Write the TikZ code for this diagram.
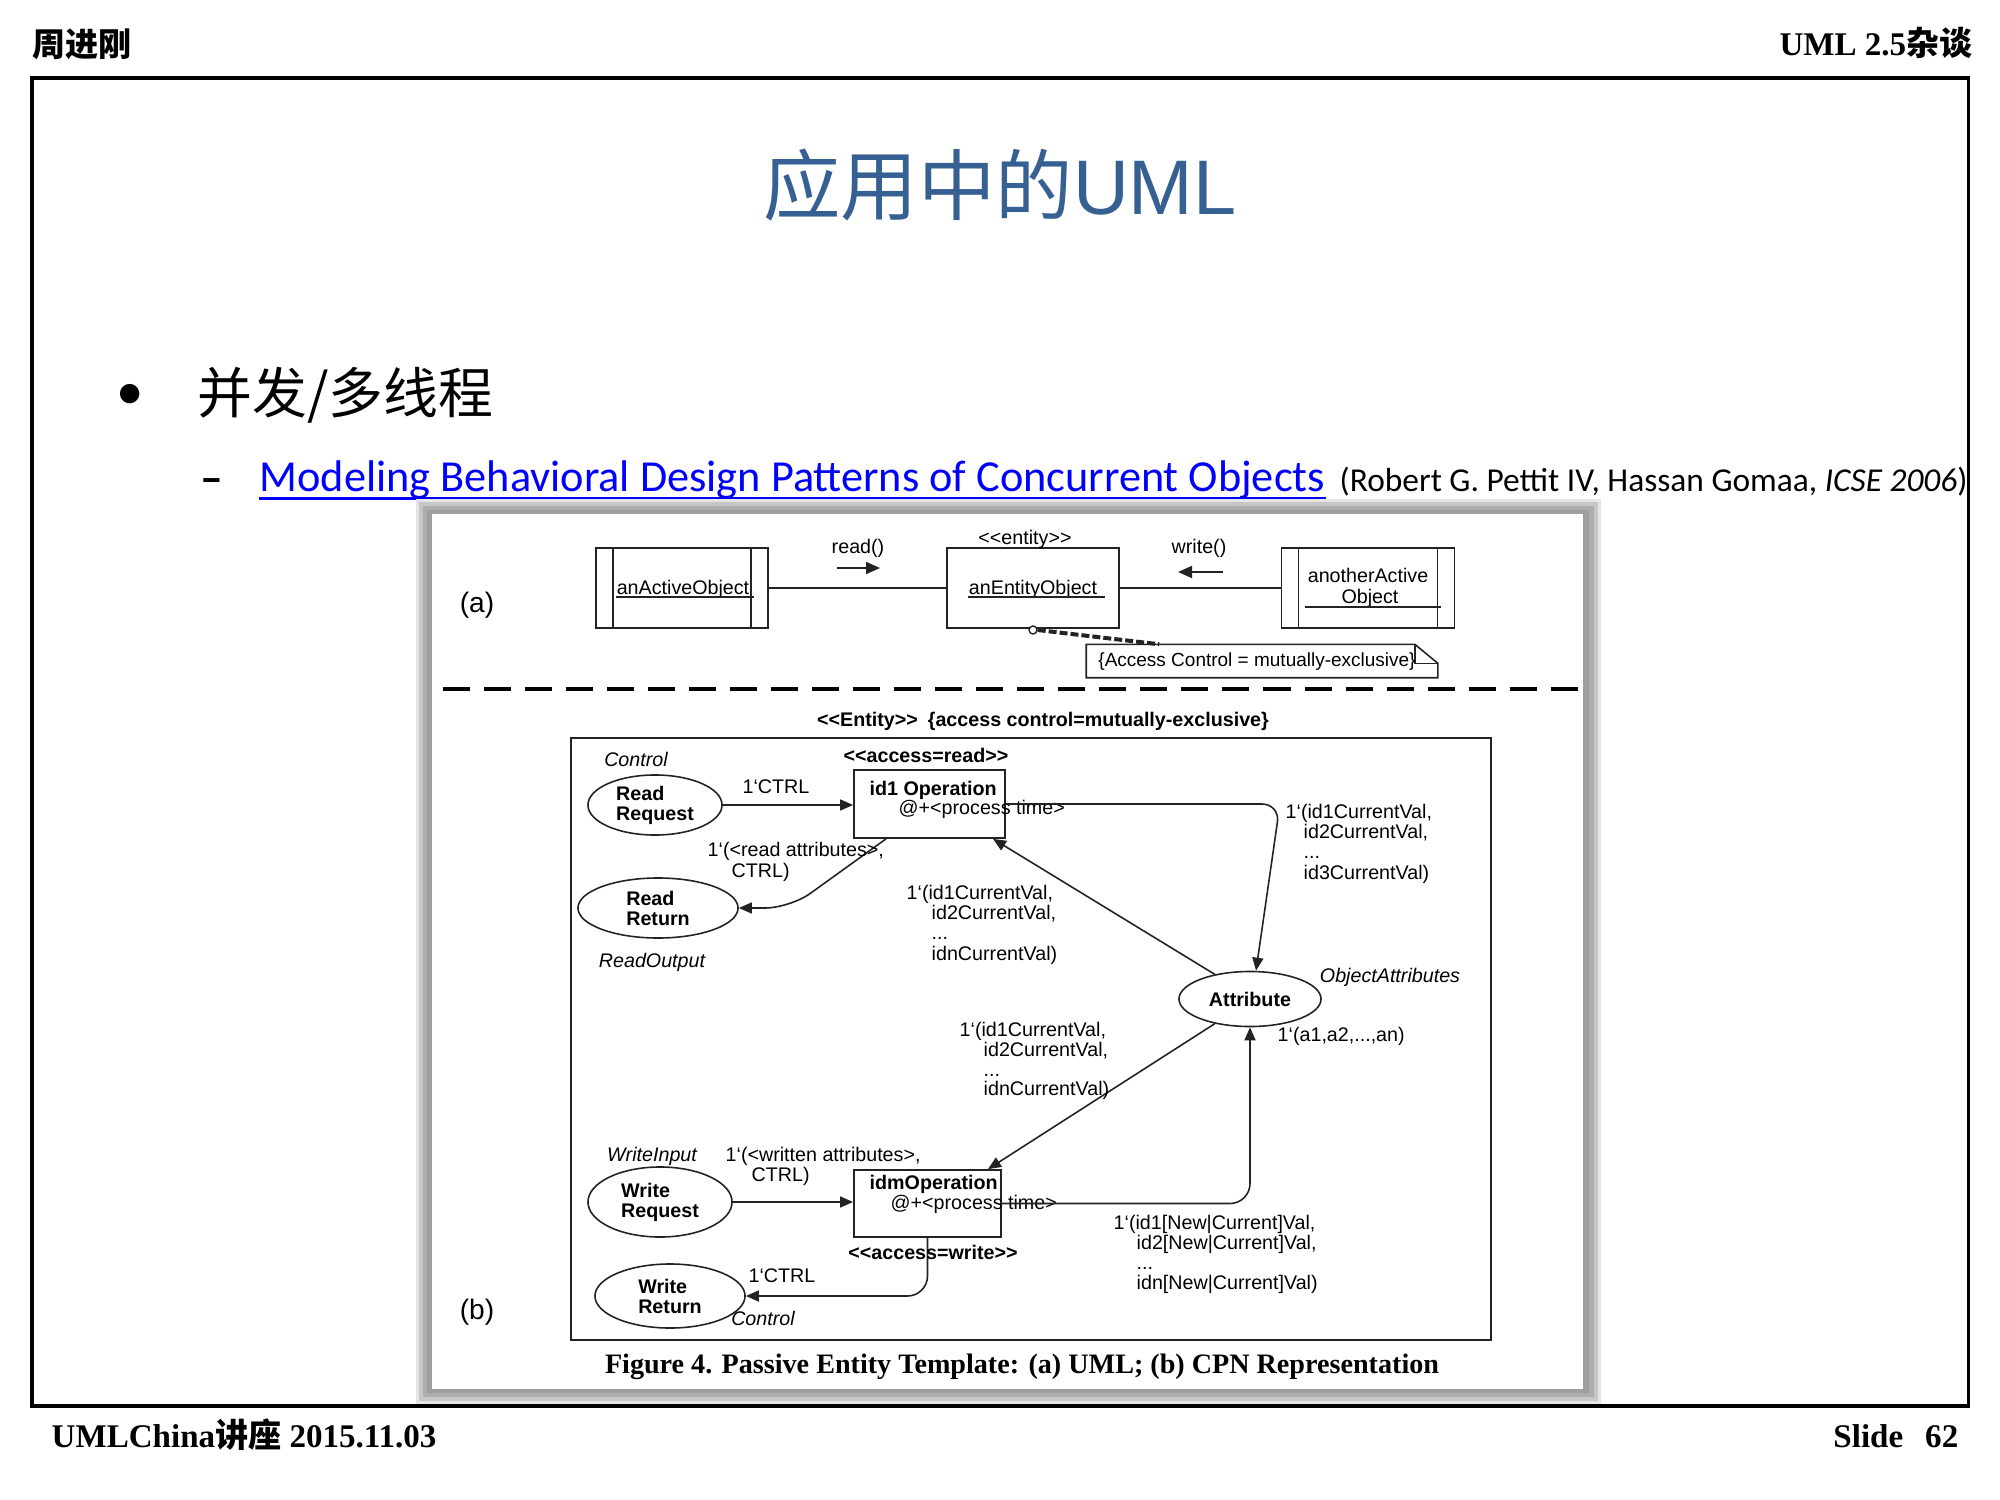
\documentclass[tikz,border=0pt]{standalone}
\usepackage{fontspec}
\setmainfont{Liberation Serif}
\newfontfamily\cjk{Noto Sans CJK SC}
\newfontfamily\dfont{Liberation Sans}
\newfontfamily\calfont{Carlito}
\usetikzlibrary{arrows.meta,shapes.geometric,calc}
\definecolor{titleblue}{RGB}{54,96,146}
\definecolor{linkblue}{RGB}{0,0,255}
\definecolor{dline}{RGB}{35,35,35}
\newcommand{\dsz}{\dfont\fontsize{5.6}{5.7}\selectfont}
\newcommand{\dlt}{<\kern0pt<}
\newcommand{\dgt}{>\kern0pt>}
\tikzset{
  lbl/.style={font=\dsz, inner sep=0pt},
  lblb/.style={font=\dsz\bfseries, inner sep=0pt},
  lbli/.style={font=\dsz\itshape, inner sep=0pt},
  objbox/.style={draw=dline, line width=0.45pt, minimum width=1.72cm, minimum height=0.80cm, inner sep=0pt},
  place/.style={ellipse, draw=dline, line width=0.45pt, inner sep=0pt, font=\dsz\bfseries, align=left},
  trans/.style={draw=dline, line width=0.5pt, inner sep=0pt},
  arc/.style={draw=dline, line width=0.45pt},
  arr/.style={arc, -{Triangle[length=0.13cm,width=0.11cm]}},
  sarr/.style={draw=dline, line width=0.5pt, -{Triangle[length=0.14cm,width=0.12cm]}},
  hdr/.style={inner sep=0pt, font=\fontsize{9.4}{11}\selectfont\bfseries},
}
\begin{document}
\begin{tikzpicture}[x=0.01cm,y=-0.01cm]
\useasboundingbox (0,0) rectangle (2000,1500);
% header
\node[hdr, anchor=base west] (author) at (32,57) {{\cjk 周进刚}};
\node[hdr, anchor=base east] (course) at (1973,56) {UML 2.5{\cjk 杂谈}};
% frame
\draw[line width=0.04cm] (30,78) -- (1970,78);
\draw[line width=0.03cm] (32,78) -- (32,1406);
\draw[line width=0.03cm] (1968,78) -- (1968,1406);
\draw[line width=0.035cm] (30,1406) -- (1970,1406);
% footer
\node[hdr, anchor=base west] (foot) at (51,1447) {UMLChina{\cjk 讲座} 2015.11.03};
\node[hdr, anchor=base east] (slide) at (1959,1447) {Slide\hspace{0.22cm}62};
% title
\node[anchor=base, inner sep=0pt, text=titleblue, font=\fontsize{22}{26}\selectfont] (title) at (1000,215) {{\cjk 应用中的}{\dfont UML}};
% bullets
\node[inner sep=0pt, font=\calfont\fontsize{15.6}{18}\selectfont] (bul) at (130,397) {•};
\node[anchor=base west, inner sep=0pt, font=\fontsize{15.6}{18}\selectfont] (l1) at (197,413) {{\cjk 并发/多线程}};
\node[inner sep=0pt, font=\calfont\fontsize{13}{15}\selectfont\bfseries] (dash) at (212,486) {–};
\node[anchor=base west, inner sep=0pt, text=linkblue, font=\calfont\fontsize{12.6}{15}\selectfont] (link) at (259,491) {Modeling Behavioral Design Patterns of Concurrent Objects};
\draw[linkblue, line width=0.03cm] ([yshift=-0.07cm]link.base west) -- ([yshift=-0.07cm]link.base east);
\node[anchor=base west, inner sep=0pt, font=\calfont\fontsize{9.5}{11}\selectfont] (cite) at (1339,491) {(Robert G. Pettit IV, Hassan Gomaa, \textit{ICSE 2006})};
% figure shadow and paper
\fill[black!10] (416,499) rectangle (1601,1404);
\fill[black!22] (419,502) rectangle (1598,1401);
\fill[black!32] (423,506) rectangle (1594,1397);
\fill[black!38] (427,510) rectangle (1589,1393);
\fill[white] (432,514) rectangle (1583,1389);
% ---------- (a)
\node[inner sep=0pt, font=\dfont\fontsize{8}{9}\selectfont] (la) at (477,605) {(a)};
\node[objbox] (aobj) at (682,588) {};
\draw[dline, line width=0.45pt] ([xshift=0.18cm]aobj.north west) -- ([xshift=0.18cm]aobj.south west)
  ([xshift=-0.18cm]aobj.north east) -- ([xshift=-0.18cm]aobj.south east);
\node[lbl, anchor=base] (aobjt) at (683,594) {anActiveObject};
\draw[dline, line width=0.4pt] ([yshift=-0.03cm]aobjt.base west) -- ([xshift=0.04cm,yshift=-0.03cm]aobjt.base east);
\node[objbox] (ent) at (1033,588) {};
\node[lbl, anchor=base] (entt) at (1033,594) {anEntityObject};
\draw[dline, line width=0.4pt] ([yshift=-0.03cm]entt.base west) -- ([xshift=0.07cm,yshift=-0.03cm]entt.base east);
\node[lbl, anchor=base] (stereo) at (1025,544) {\dlt entity\dgt};
\node[objbox, minimum width=1.73cm] (aobj2) at (1368,588) {};
\draw[dline, line width=0.45pt] ([xshift=0.18cm]aobj2.north west) -- ([xshift=0.18cm]aobj2.south west)
  ([xshift=-0.18cm]aobj2.north east) -- ([xshift=-0.18cm]aobj2.south east);
\node[lbl, anchor=base] (aobj2a) at (1368,582) {anotherActive};
\node[lbl, anchor=base] (aobj2b) at (1370,603) {Object};
\draw[dline, line width=0.4pt] (1305,607) -- (1441,607);
\draw[arc] (aobj) -- (ent);
\draw[arc] (ent) -- (aobj2);
\node[lbl] (readl) at (858,548) {read()};
\coordinate (r1) at (837,568); \coordinate (r2) at (880,568);
\draw[sarr] (r1) -- (r2);
\node[lbl] (writel) at (1199,548) {write()};
\coordinate (w1) at (1223,572); \coordinate (w2) at (1178,572);
\draw[sarr] (w1) -- (w2);
% note
\node[inner sep=0pt, minimum width=3.50cm, minimum height=0.32cm] (note) at (1262,661) {};
\draw[dline, line width=0.45pt] (note.north west) -- ([xshift=-0.23cm]note.north east) -- ([yshift=-0.19cm]note.north east) -- (note.south east) -- (note.south west) -- cycle;
\draw[dline, line width=0.4pt] ([xshift=-0.23cm]note.north east) -- ([xshift=-0.23cm,yshift=-0.19cm]note.north east) -- ([yshift=-0.19cm]note.north east);
\node[lbl, font=\dfont\fontsize{5.4}{5.6}\selectfont] (notet) at (1257,662) {\{Access Control = mutually-exclusive\}};
\node[circle, draw=dline, line width=0.4pt, fill=white, inner sep=0pt, minimum size=0.08cm] (ncirc) at (1033,630) {};
\draw[dline, line width=0.04cm, dash pattern=on 0.08cm off 0.03cm] (ncirc.east) -- ([xshift=0.73cm]note.north west);
% separator
\draw[line width=0.035cm, dash pattern=on 0.27cm off 0.14cm] (443,689) -- (1582,689);
% ---------- (b)
\node[lblb] (enthdr) at (1043,721) {\dlt Entity\dgt\hspace{0.1cm}\{access control=mutually-exclusive\}};
\draw[dline, line width=0.5pt] (571,738) rectangle (1491,1340);
\node[place, minimum width=1.34cm, minimum height=0.60cm] (rreq) at (655,805) {Read\\Request};
\node[place, minimum width=1.60cm, minimum height=0.60cm] (rret) at (658,908) {Read\\Return};
\node[place, minimum width=1.44cm, minimum height=0.70cm] (wreq) at (660,1202) {Write\\Request};
\node[place, minimum width=1.50cm, minimum height=0.64cm] (wret) at (670,1296) {Write\\Return};
\node[place, minimum width=1.42cm, minimum height=0.55cm] (attr) at (1250,999) {Attribute};
\node[trans, minimum width=1.51cm, minimum height=0.68cm] (op1) at (929.5,804) {};
\node[lblb, anchor=base west] (op1a) at (869,795) {id1 Operation};
\node[lbl, anchor=base west] (op1b) at (898,814) {@+<process time>};
\node[trans, minimum width=1.47cm, minimum height=0.67cm] (opm) at (927.5,1203.5) {};
\node[lblb, anchor=base west] (opma) at (869,1189) {idmOperation};
\node[lbl, anchor=base west] (opmb) at (890,1209) {@+<process time>};
% arcs
\coordinate (c1) at (1280,804);
\coordinate (c2) at (790,908);
\draw[arr] (rreq.east) -- (rreq.east -| op1.west);
\draw[arr, rounded corners=0.18cm] (op1.east) -- (c1) -- ([xshift=0.06cm]attr.north);
\draw[arr] (attr.145) -- ([xshift=0.635cm]op1.south);
\draw[arr, rounded corners=0.25cm] ([xshift=-0.435cm]op1.south) -- (c2) -- (rret.east);
\draw[arr] (attr.215) -- ([xshift=0.605cm]opm.north);
\draw[arr] (wreq.east) -- (wreq.east -| opm.west);
\draw[arr, rounded corners=0.2cm] (opm.east) -- (attr.south |- opm.east) -- (attr.south);
\draw[arr, rounded corners=0.2cm] (opm.south) -- (opm.south |- wret.east) -- (wret.east);
% labels
\node[lbli] (ctl1) at (636,759) {Control};
\node[lblb] (accr) at (926,755) {\dlt access=read\dgt};
\node[lbl] (ctrl1) at (776,787) {1‘CTRL};
\node[lbl, anchor=base west] (ra1) at (707,856) {1‘(<read attributes>,};
\node[lbl, anchor=base west] (ra2) at (731,877) {CTRL)};
\node[lbli] (rout) at (652,962) {ReadOutput};
\node[lbl, anchor=base west] (u1) at (906,899) {1‘(id1CurrentVal,};
\node[lbl, anchor=base west] (u2) at (931,919) {id2CurrentVal,};
\node[lbl, anchor=base west] (u3) at (931,939) {...};
\node[lbl, anchor=base west] (u4) at (931,960) {idnCurrentVal)};
\node[lbl, anchor=base west] (v1) at (1285,818) {1‘(id1CurrentVal,};
\node[lbl, anchor=base west] (v2) at (1303,838) {id2CurrentVal,};
\node[lbl, anchor=base west] (v3) at (1303,858) {...};
\node[lbl, anchor=base west] (v4) at (1303,879) {id3CurrentVal)};
\node[lbli] (objattr) at (1390,977) {ObjectAttributes};
\node[lbl, anchor=base west] (init) at (1277,1041) {1‘(a1,a2,...,an)};
\node[lbl, anchor=base west] (m1) at (959,1036) {1‘(id1CurrentVal,};
\node[lbl, anchor=base west] (m2) at (983,1056) {id2CurrentVal,};
\node[lbl, anchor=base west] (m3) at (983,1076) {...};
\node[lbl, anchor=base west] (m4) at (983,1095) {idnCurrentVal)};
\node[lbli] (winp) at (652,1156) {WriteInput};
\node[lbl, anchor=base west] (wa1) at (725,1161) {1‘(<written attributes>,};
\node[lbl, anchor=base west] (wa2) at (751,1181) {CTRL)};
\node[lblb] (accw) at (933,1252) {\dlt access=write\dgt};
\node[lbl, anchor=base west] (n1) at (1113,1229) {1‘(id1[New|Current]Val,};
\node[lbl, anchor=base west] (n2) at (1136,1249) {id2[New|Current]Val,};
\node[lbl, anchor=base west] (n3) at (1136,1269) {...};
\node[lbl, anchor=base west] (n4) at (1136,1289) {idn[New|Current]Val)};
\node[lbl] (ctrl2) at (782,1276) {1‘CTRL};
\node[lbli] (ctl2) at (763,1318) {Control};
\node[inner sep=0pt, font=\dfont\fontsize{8}{9}\selectfont] (lb) at (477,1312) {(b)};
\node[inner sep=0pt, font=\fontsize{8}{10}\selectfont\bfseries] (cap) at (1022,1367) {Figure 4. Passive Entity Template: (a) UML; (b) CPN Representation};
\end{tikzpicture}
\end{document}
